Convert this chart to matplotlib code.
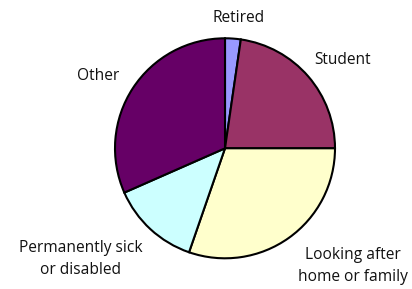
import matplotlib
matplotlib.use('Agg')
import matplotlib.pyplot as plt

categories = ['Retired', 'Student', 'Looking after\nhome or family',
              'Permanently sick\nor disabled', 'Other']
shares = [2.3, 22.7, 30.3, 13.1, 31.6]
colors = ['#9999FF', '#993366', '#FFFFCC', '#CCFFFF', '#660066']

# label anchor points in pixel coords (y from bottom)
label_pos = [(239, 271), (343, 229), (353, 23), (81, 30), (98, 213)]


def main():
    plt.rcParams['font.family'] = ['Open Sans', 'DejaVu Sans']
    fig = plt.figure(figsize=(4.12, 2.89), dpi=100)
    ax = fig.add_axes([0, 0, 1, 1])
    ax.axis('off')

    ax.pie(shares, colors=colors, startangle=90, counterclock=False,
           center=(225, 140.7), radius=110,
           wedgeprops=dict(edgecolor='black', linewidth=1.5))
    ax.set_xlim(0, 412)
    ax.set_ylim(0, 289)
    ax.set_aspect('equal')

    for name, (x, y) in zip(categories, label_pos):
        ax.text(x, y, name, ha='center', va='center', fontsize=11.2,
                linespacing=1.55, color='#111111')

    fig.savefig('out.png', dpi=100)
    return 0


if __name__ == '__main__':
    main()
